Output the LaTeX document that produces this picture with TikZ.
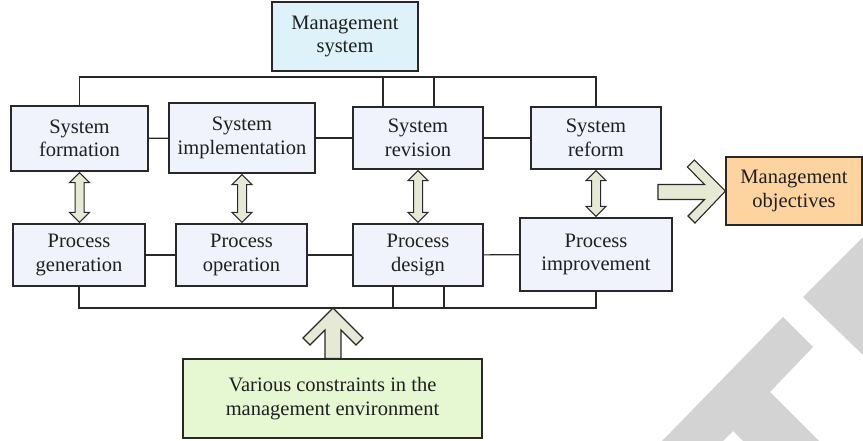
\documentclass[tikz,border=0pt]{standalone}
\usepackage{fontspec}
\setmainfont{Liberation Serif}
\usetikzlibrary{calc}
\definecolor{boxfill}{RGB}{240,243,252}
\definecolor{msfill}{RGB}{222,242,250}
\definecolor{mofill}{RGB}{253,212,160}
\definecolor{envfill}{RGB}{229,248,210}
\definecolor{arrfill}{RGB}{230,233,212}
\definecolor{linec}{RGB}{40,40,40}
\definecolor{wmark}{RGB}{211,211,211}
\newcommand\dblarrow[2]{%
  \draw[dblarr] let \p1=(#1.south), \p2=(#2.north) in
  (\x1,\y1-1pt) -- (\x1+10pt,\y1-11pt) -- (\x1+4.5pt,\y1-11pt) -- (\x1+4.5pt,\y2+11pt)
  -- (\x1+10pt,\y2+11pt) -- (\x1,\y2+1pt) -- (\x1-10pt,\y2+11pt) -- (\x1-4.5pt,\y2+11pt)
  -- (\x1-4.5pt,\y1-11pt) -- (\x1-10pt,\y1-11pt) -- cycle;}
\begin{document}
\begin{tikzpicture}[x=1pt,y=-1pt,
  box/.style={draw=linec,line width=1.1pt,fill=boxfill,align=center,inner sep=0pt,
    font=\fontsize{20.5}{23.5}\selectfont,text=black!88},
  conn/.style={draw=linec,line width=1.1pt},
  dblarr/.style={draw=linec,line width=1pt,fill=arrfill,line join=miter},
  bigarr/.style={draw=linec,line width=1.1pt,fill=arrfill,line join=miter}]
\useasboundingbox (0,0) rectangle (863,441);
% watermark
\fill[wmark] (863,237) -- (803,297) -- (863,355) -- cycle;
\fill[wmark] (783,317) -- (813,347) -- (770,392) -- (819,441) -- (743,441) -- (733,431)
  -- (723,441) -- (662,441) -- cycle;
% boxes
\node[box,fill=msfill,minimum width=146,minimum height=69] (ms) at (345,36.5) {Management\\system};
\node[box,minimum width=137,minimum height=65] (sf) at (79.5,138.5) {System\\formation};
\node[box,minimum width=146,minimum height=70] (si) at (242,138) {System\\implementation};
\node[box,minimum width=130,minimum height=62] (sr) at (418,138) {System\\revision};
\node[box,minimum width=130,minimum height=62] (sref) at (596,138) {System\\reform};
\node[box,fill=mofill,minimum width=136,minimum height=68] (mo) at (794,191) {Management\\objectives};
\node[box,minimum width=132,minimum height=62] (pg) at (79,255) {Process\\generation};
\node[box,minimum width=131,minimum height=62] (po) at (241.5,255) {Process\\operation};
\node[box,minimum width=130,minimum height=62] (pd) at (418,255) {Process\\design};
\node[box,minimum width=152,minimum height=73] (pi) at (596,254.5) {Process\\improvement};
\node[box,fill=envfill,minimum width=299,minimum height=79] (env) at (332.5,398.5) {Various constraints in the\\management environment};
% top bus
\coordinate (bt) at (0,77);
\draw[conn] (sf.north) -- (sf.north |- bt) -- (sref.north |- bt) -- (sref.north);
\draw[conn] ($(sr.north)+(-35,0)$) -- ++(0,-30);
\draw[conn] ($(sr.north)+(16,0)$) -- ++(0,-30);
% horizontal links
\draw[conn] (sf) -- (si);
\draw[conn] (si) -- (sr);
\draw[conn] (sr) -- (sref);
\draw[conn] (pg) -- (po);
\draw[conn] (po) -- (pd);
\draw[conn] (pd) -- (pi);
% bottom bus
\coordinate (bb) at (0,308);
\draw[conn] (pg.south) -- (pg.south |- bb) -- (pi.south |- bb) -- (pi.south);
\draw[conn] ($(pd.south)+(-25,0)$) -- ++(0,22);
\draw[conn] ($(pd.south)+(26,0)$) -- ++(0,22);
% double arrows
\dblarrow{sf}{pg}
\dblarrow{si}{po}
\dblarrow{sr}{pd}
\dblarrow{sref}{pi}
% up arrow from environment
\coordinate (uptip) at (333,308);
\draw[bigarr] (uptip) -- ++(-30,30) -- ++(7,7) -- ++(15,-15) -- (325,0 |- env.north)
  -- (341,0 |- env.north) -- (341,330) -- ++(15,15) -- ++(7,-7) -- cycle;
% right arrow to objectives
\draw[bigarr] (mo.west) -- ++(-31,-31) -- ++(-7,7) -- (704.5,184.5) -- (658,184.5)
  -- (658,199.5) -- (704.5,199.5) -- (688,216) -- ++(7,7) -- cycle;
\end{tikzpicture}
\end{document}
